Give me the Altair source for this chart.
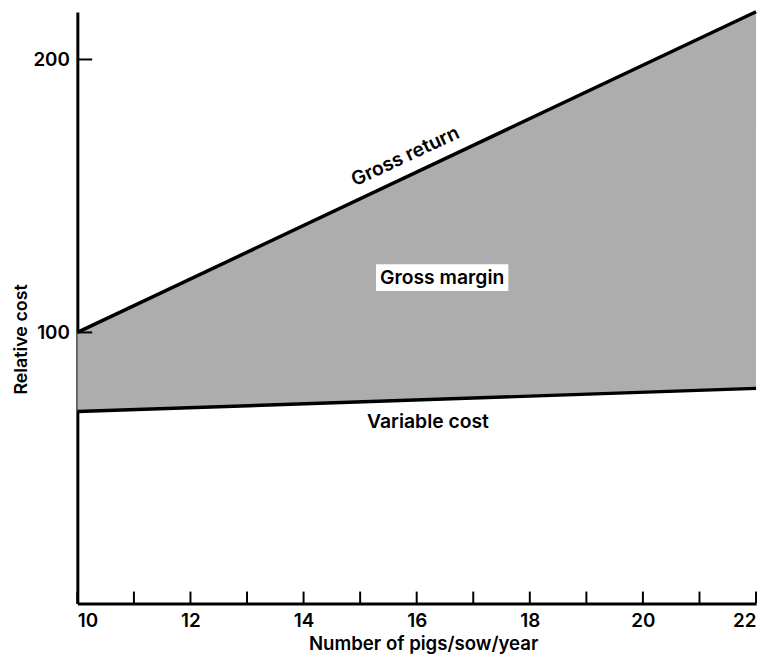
import altair as alt
import pandas as pd

# Data
x_vals = [10, 22]
gross_return = [100, 217.5]
variable_cost = [71, 79.5]

x_tick_values = [10, 11, 12, 13, 14, 15, 16, 17, 18, 19, 20, 21, 22]
x_label_values = [10, 12, 14, 16, 18, 20, 22]
y_tick_values = [100, 200]

ann_text = ["Gross return", "Gross margin", "Variable cost"]
ann_x = [15.8, 16.45, 16.2]
ann_y = [164.5, 120.1, 67.3]
ann_angle = [335, 0, 0]

box_x = [15.28]
box_x2 = [17.62]
box_y = [115.2]
box_y2 = [125.0]

FONT = "Inter"
WEIGHT = 600
W, H = 685, 597

df = pd.DataFrame({"x": x_vals, "gr": gross_return, "vc": variable_cost})
ticks_df = pd.DataFrame({"x": x_tick_values})
yticks_df = pd.DataFrame({"gr": y_tick_values})
ann_df = pd.DataFrame({"text": ann_text, "x": ann_x, "gr": ann_y, "angle": ann_angle})
box_df = pd.DataFrame({"x": box_x, "x2": box_x2, "gr": box_y, "y2": box_y2})

xscale = alt.Scale(domain=[10, 22], nice=False, zero=False)
yscale = alt.Scale(domain=[0.7, 217.4], nice=False, zero=False)

x_axis = alt.Axis(
    values=x_label_values, ticks=False, grid=False, domainWidth=3, domainColor="black",
    labelFontSize=19, labelFont=FONT, labelFontWeight=WEIGHT, labelColor="black",
    labelFlush=True, labelPadding=8,
    title="Number of pigs/sow/year", titleFont=FONT, titleFontSize=18.8, titleFontWeight=WEIGHT,
    titleColor="black", titleX=349, titleY=46, titleBaseline="alphabetic", titleAnchor="middle",
    titleAlign="center",
)
y_axis = alt.Axis(
    values=y_tick_values, ticks=False, grid=False, domainWidth=3, domainColor="black",
    labelFontSize=19, labelFont=FONT, labelFontWeight=WEIGHT, labelColor="black", labelPadding=8,
    title="Relative cost", titleFont=FONT, titleFontSize=18, titleFontWeight=WEIGHT,
    titleColor="black", titleX=-51, titleY=330, titleAngle=270, titleAlign="center",
    titleBaseline="alphabetic",
)

X = lambda f: alt.X(f, scale=xscale, axis=x_axis)
Y = lambda f: alt.Y(f, scale=yscale, axis=y_axis)

area = alt.Chart(df).mark_area(color="#adadad").encode(
    x=X("x:Q"), y=Y("gr:Q"), y2="vc:Q",
)
line_gr = alt.Chart(df).mark_line(color="black", strokeWidth=3.5).encode(
    x=X("x:Q"), y=Y("gr:Q"),
)
line_vc = alt.Chart(df).mark_line(color="black", strokeWidth=3.5).encode(
    x=X("x:Q"), y=Y("vc:Q"),
)
xticks = alt.Chart(ticks_df).mark_rule(color="black", strokeWidth=2).encode(
    x=X("x:Q"), y=alt.value(H), y2=alt.value(H - 12),
)
yticks = alt.Chart(yticks_df).mark_rule(color="black", strokeWidth=2).encode(
    y=Y("gr:Q"), x=alt.value(0), x2=alt.value(15),
)
box = alt.Chart(box_df).mark_rect(color="white").encode(
    x=X("x:Q"), x2="x2:Q", y=Y("gr:Q"), y2="y2:Q",
)
labels = alt.Chart(ann_df).mark_text(
    font=FONT, fontSize=19.5, fontWeight=WEIGHT, color="black", align="center", baseline="middle"
).encode(
    x=X("x:Q"), y=Y("gr:Q"), text="text:N",
    angle=alt.Angle("angle:Q", scale=None),
)

chart = alt.layer(area, line_gr, line_vc, xticks, yticks, box, labels).properties(
    width=W, height=H,
    background="white",
    autosize=alt.AutoSizeParams(type="none"),
    padding={"left": 70, "top": 1, "right": 4, "bottom": 50},
).configure_view(stroke=None)

chart.save("out.html", embed_options={"renderer": "svg", "actions": False})
